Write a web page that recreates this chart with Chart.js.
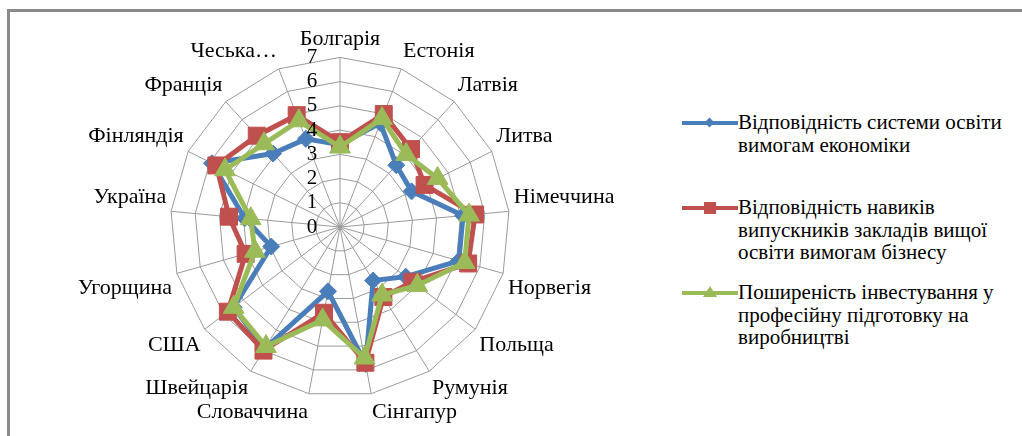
<!DOCTYPE html>
<html>
<head>
<meta charset="utf-8">
<script src="https://cdn.jsdelivr.net/npm/chart.js@4/dist/chart.umd.min.js"></script>
<style>
  body { margin: 0; background: #fff; width: 1022px; height: 436px; overflow: hidden; position: relative; }
  #frame { position: absolute; left: 7px; top: 9px; right: -10px; bottom: -10px; border-top: 3px solid #8a8a8a; border-left: 3px solid #8a8a8a; }
  #wrap { position: absolute; left: 0; top: 0; width: 680px; height: 436px; }
  .leg { position: absolute; left: 682px; font-family: "Liberation Serif", Tinos, "Times New Roman", "DejaVu Serif", serif; font-size: 21px; line-height: 22.5px; color: #000; }
  .leg .txt { position: absolute; left: 56px; top: 0; white-space: nowrap; }
  .leg .ln { position: absolute; left: 0; top: 10px; width: 56px; height: 4px; }
  .leg .mk { position: absolute; }
</style>
</head>
<body>
<div id="frame"></div>
<div id="wrap"><canvas id="grafico"></canvas></div>
<div id="legenda"></div>
<script>
var categorias = ['Болгарія', 'Естонія', 'Латвія', 'Литва', 'Німеччина', 'Норвегія', 'Польща', 'Румунія', 'Сінгапур', 'Словаччина', 'Швейцарія', 'США', 'Угорщина', 'Україна', 'Фінляндія', 'Франція', 'Чеська…'];

var osvita = [3.4, 4.6, 3.45, 3.3, 5.1, 5.1, 3.4, 2.6, 5.75, 2.7, 5.9, 5.5, 2.95, 3.95, 5.9, 4.1, 3.9];
var navyky = [3.5, 5.0, 4.35, 3.9, 5.6, 5.5, 3.75, 3.4, 5.7, 3.6, 6.0, 5.8, 4.05, 4.6, 5.7, 5.1, 4.95];
var investuvannia = [3.3, 4.8, 4.05, 4.5, 5.35, 5.35, 4.0, 3.3, 5.5, 3.9, 5.8, 5.5, 3.65, 3.7, 5.3, 4.65, 4.7];

var nomes = [
  ['Відповідність системи освіти', 'вимогам економіки'],
  ['Відповідність навиків', 'випускників  закладів вищої', 'освіти вимогам бізнесу'],
  ['Поширеність інвестування  у', 'професійну підготовку на', 'виробництві']
];
var cores = ['#4a7ebb', '#c0504d', '#9bbb59'];
var legTop = [111, 196, 281];

var fonte = '"Liberation Serif", Tinos, "Times New Roman", "DejaVu Serif", serif';

// tick labels to the left of the vertical axis, like in the original
var tickLabels = {
  id: 'tickLabels',
  afterDatasetsDraw: function(chart) {
    var s = chart.scales.r;
    var ctx = chart.ctx;
    ctx.save();
    ctx.font = '21px ' + fonte;
    ctx.fillStyle = '#000';
    ctx.textAlign = 'center';
    ctx.textBaseline = 'middle';
    for (var i = 0; i < s.ticks.length; i++) {
      var y = s.yCenter - s.getDistanceFromCenterForValue(s.ticks[i].value);
      ctx.fillText(s.ticks[i].label, s.xCenter - 28, y);
    }
    ctx.restore();
  }
};

var ctx = document.getElementById('grafico').getContext('2d');
var myChart = new Chart(ctx, {
  type: 'radar',
  data: {
    labels: categorias,
    datasets: [{
      label: nomes[0].join(' '),
      data: osvita,
      borderColor: cores[0],
      backgroundColor: cores[0],
      borderWidth: 5,
      pointStyle: 'rectRot',
      pointRadius: 8.5,
      pointBorderWidth: 1,
      fill: false,
      order: 3
    }, {
      label: nomes[1].join(' '),
      data: navyky,
      borderColor: cores[1],
      backgroundColor: cores[1],
      borderWidth: 5,
      pointStyle: 'rect',
      pointRadius: 12,
      pointBorderWidth: 1,
      fill: false,
      order: 2
    }, {
      label: nomes[2].join(' '),
      data: investuvannia,
      borderColor: cores[2],
      backgroundColor: cores[2],
      borderWidth: 5,
      pointStyle: 'triangle',
      pointRadius: 12,
      pointBorderWidth: 1,
      fill: false,
      order: 1
    }]
  },
  options: {
    responsive: true,
    maintainAspectRatio: false,
    animation: false,
    layout: { padding: { top: 25, bottom: 9, left: 0, right: 0 } },
    elements: { line: { tension: 0 } },
    plugins: {
      legend: { display: false },
      tooltip: { enabled: false }
    },
    scales: {
      r: {
        min: 0,
        max: 7,
        ticks: { stepSize: 1, display: false },
        grid: { color: '#9a9a9a', lineWidth: 1 },
        angleLines: { color: '#9a9a9a', lineWidth: 1 },
        pointLabels: { color: '#000', padding: 5, font: { family: fonte, size: 22 } }
      }
    }
  },
  plugins: [tickLabels]
});

// legend on the right
var html = '';
for (var i = 0; i < nomes.length; i++) {
  var mk = '';
  if (i == 0) {
    mk = '<div class="mk" style="left:24px;top:8px;width:7px;height:7px;background:' + cores[0] + ';transform:rotate(45deg)"></div>';
  } else if (i == 1) {
    mk = '<div class="mk" style="left:22px;top:6px;width:12px;height:12px;background:' + cores[1] + '"></div>';
  } else {
    mk = '<div class="mk" style="left:21px;top:5px;width:0;height:0;border-left:7px solid transparent;border-right:7px solid transparent;border-bottom:11px solid ' + cores[2] + '"></div>';
  }
  html += '<div class="leg" style="top:' + legTop[i] + 'px">';
  html += '<div class="ln" style="background:' + cores[i] + '"></div>' + mk;
  html += '<div class="txt">' + nomes[i].join('<br>') + '</div>';
  html += '</div>';
}
document.getElementById('legenda').innerHTML = html;
</script>
</body>
</html>
